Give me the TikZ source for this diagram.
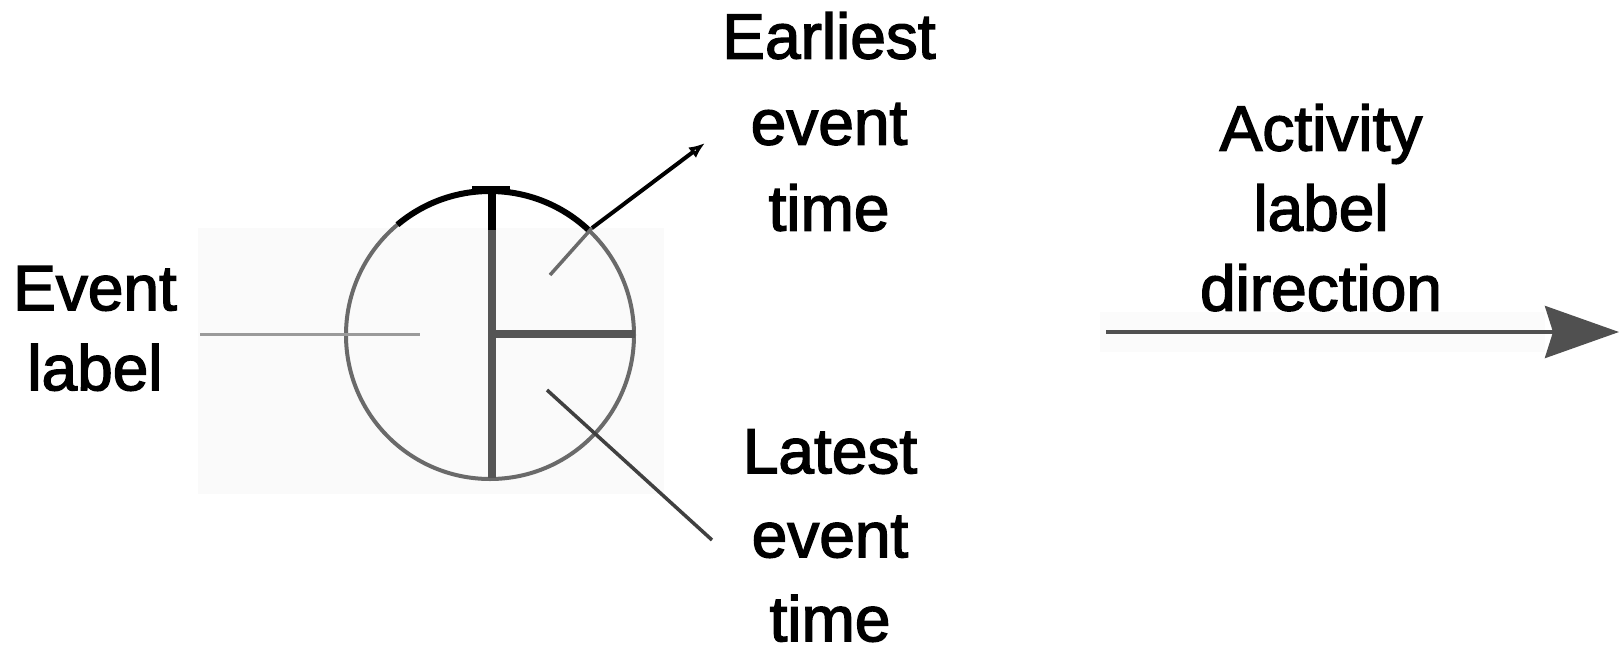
\documentclass[tikz,border=0pt]{standalone}
\usepackage{fontspec}
\setmainfont{Liberation Sans}
\usetikzlibrary{arrows.meta}
\definecolor{ringgray}{HTML}{6A6A6A}
\definecolor{bargray}{HTML}{555555}
\definecolor{thingray}{HTML}{9A9A9A}
\definecolor{arrgray}{HTML}{505050}
\tikzset{
  lbl/.style={inner sep=0pt, anchor=north, align=center, text=black,
    font=\fontsize{64}{86}\selectfont\addfontfeature{FakeBold=2.2}},
  lblc/.style={lbl, font=\fontsize{64}{84}\selectfont\addfontfeature{FakeBold=2.2}},
  lblb/.style={lbl, font=\fontsize{64}{80}\selectfont\addfontfeature{FakeBold=2.2}},
  ring/.style={draw=ringgray, line width=4pt},
  bar/.style={draw=bargray, line width=8pt},
  pointer/.style={line width=4pt}
}
\begin{document}
\begin{tikzpicture}[x=1pt,y=-1pt]
\useasboundingbox (0,0) rectangle (1619,656);
% faint backgrounds
\fill[black!2] (198,228) rectangle (664,494);
\fill[black!1.5] (1100,312) rectangle (1545,352);
% event circle
\coordinate (c) at (490,335);
\draw[ring] (c) circle[radius=144];
\draw[line width=6pt, draw=black] (c) ++(-130:144) arc[start angle=-130, end angle=-46, radius=144];
% thin line from the left
\coordinate (l1) at (200,334);
\coordinate (l2) at (420,334);
\draw[draw=thingray, line width=3pt] (l1) -- (l2);
% vertical and horizontal bars
\coordinate (vtop) at (492,189);
\coordinate (vmid) at (492,230);
\coordinate (vbot) at (492,478);
\coordinate (hl) at (492,334);
\coordinate (hr) at (635,334);
\draw[bar] (vmid) -- (vbot);
\draw[line width=8pt, draw=black] (vtop) -- (vmid);
\draw[line width=7pt, draw=black] (472,189) -- (510,189);
\draw[bar] (hl) -- (hr);
% texts
\node[lbl] (earliest) at (829,12) {Earliest\\event\\time};
\node[lblc] (latest) at (830,429) {Latest\\event\\time};
\node[lblb] (event) at (95,266) {Event\\label};
\node[lblb] (activity) at (1321,104) {Activity\\label\\direction};
% pointer to earliest event time
\coordinate (e0) at (550,275);
\coordinate (e1) at (592,228);
\coordinate (e2) at (705,143);
\draw[pointer, draw=ringgray, line width=3.5pt] (e0) -- (e1);
\draw[pointer, draw=black, -{Latex[open, length=16pt, width=13pt]}] (e1) -- (e2);
% pointer to latest event time
\coordinate (t0) at (547,390);
\coordinate (t1) at (712,540);
\draw[pointer, draw=black!75, line width=3.5pt] (t0) -- (t1);
% activity direction arrow
\coordinate (a0) at (1106,332);
\coordinate (a1) at (1619,332);
\draw[draw=arrgray, line width=4pt, -{Stealth[length=74pt, width=52pt, inset=8pt]}] (a0) -- (a1);
\end{tikzpicture}
\end{document}
